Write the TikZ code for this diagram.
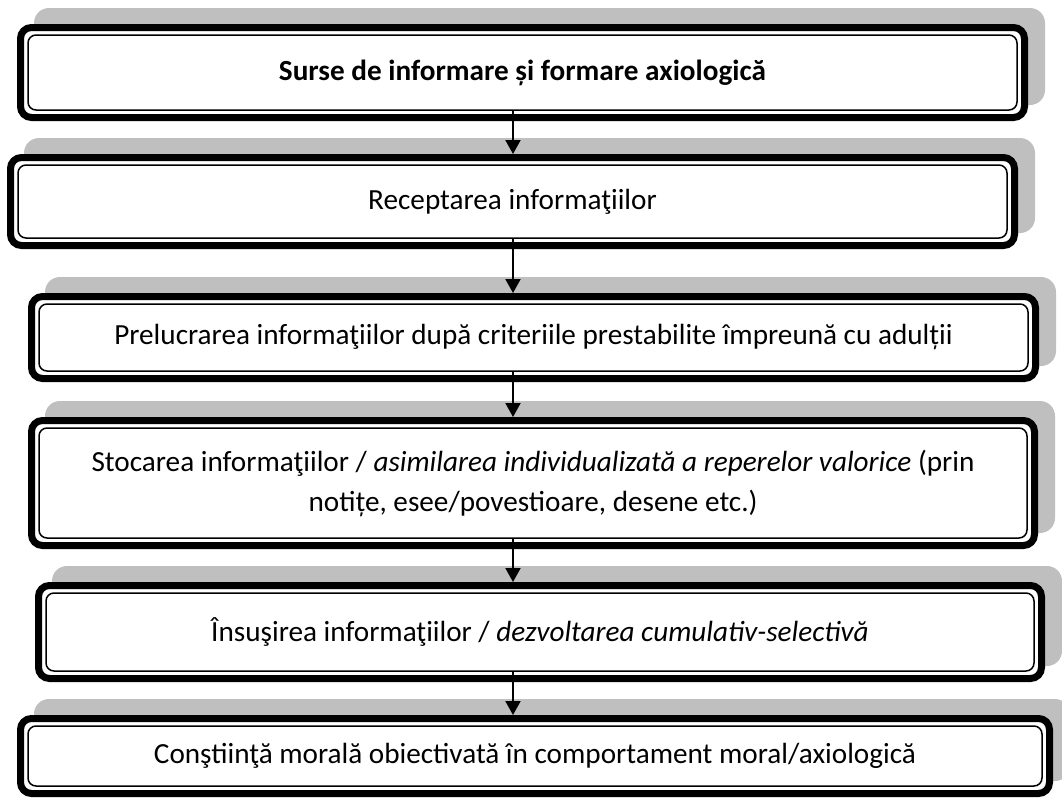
\documentclass[tikz,border=0pt]{standalone}
\usepackage{fontspec}
\setmainfont{Carlito}
\usetikzlibrary{arrows.meta,calc,backgrounds}
\definecolor{shadowgray}{RGB}{191,191,191}
\tikzset{
  stepbox/.style={draw, fill=white, line width=3.5pt, rounded corners=5.5pt, inner sep=0pt, align=center, font=\fontsize{14.6}{20}\selectfont},
  innerline/.style={line width=0.75pt, rounded corners=4pt},
  backshade/.style={fill=shadowgray, rounded corners=7.5pt},
  flow/.style={line width=1pt, -{Triangle[width=7.5pt,length=7pt]}, shorten <=-5.5pt}
}
\begin{document}
\begin{tikzpicture}[x=0.5pt,y=-0.5pt]
\useasboundingbox (0,0) rectangle (1062,799);
\node (b1) at (522.5,72.5) [stepbox, minimum width=502pt, minimum height=45pt] {\bfseries Surse de informare și formare axiologică};
\node (b2) at (512.5,201.5) [stepbox, minimum width=502pt, minimum height=44pt] {Receptarea informaţiilor};
\node (b3) at (533.5,337.5) [stepbox, minimum width=502pt, minimum height=41pt] {Prelucrarea informaţiilor după criteriile prestabilite împreună cu adulții};
\node (b4) at (533,483) [stepbox, minimum width=501.5pt, minimum height=62.5pt] {Stocarea informaţiilor / \textit{asimilarea individualizată a reperelor valorice} (prin\\ notițe, esee/povestioare, desene etc.)};
\node (b5) at (540,632) [stepbox, minimum width=501.5pt, minimum height=46.5pt] {Însuşirea informaţiilor / \textit{dezvoltarea cumulativ-selectivă}};
\node (b6) at (535,756) [stepbox, minimum width=514.5pt, minimum height=37.5pt] {Conştiinţă morală obiectivată în comportament moral/axiologică};

\foreach \n in {b1,b2,b3,b4,b5,b6}
  \draw[innerline] ($(\n.south west)+(5.5pt,5.5pt)$) rectangle ($(\n.north east)-(5.5pt,5.5pt)$);

\begin{scope}[on background layer]
\foreach \n in {b1,b2,b3,b4,b5,b6}
  \fill[backshade] ($(\n.south west)+(8.5pt,8pt)$) rectangle ($(\n.north east)+(8.5pt,8pt)$);
\end{scope}

\coordinate (ax) at (513,0);
\foreach \a/\b in {b1/b2,b2/b3,b3/b4,b4/b5,b5/b6}
  \draw[flow] (\a.south -| ax) -- (\b.north -| ax);
\end{tikzpicture}
\end{document}
